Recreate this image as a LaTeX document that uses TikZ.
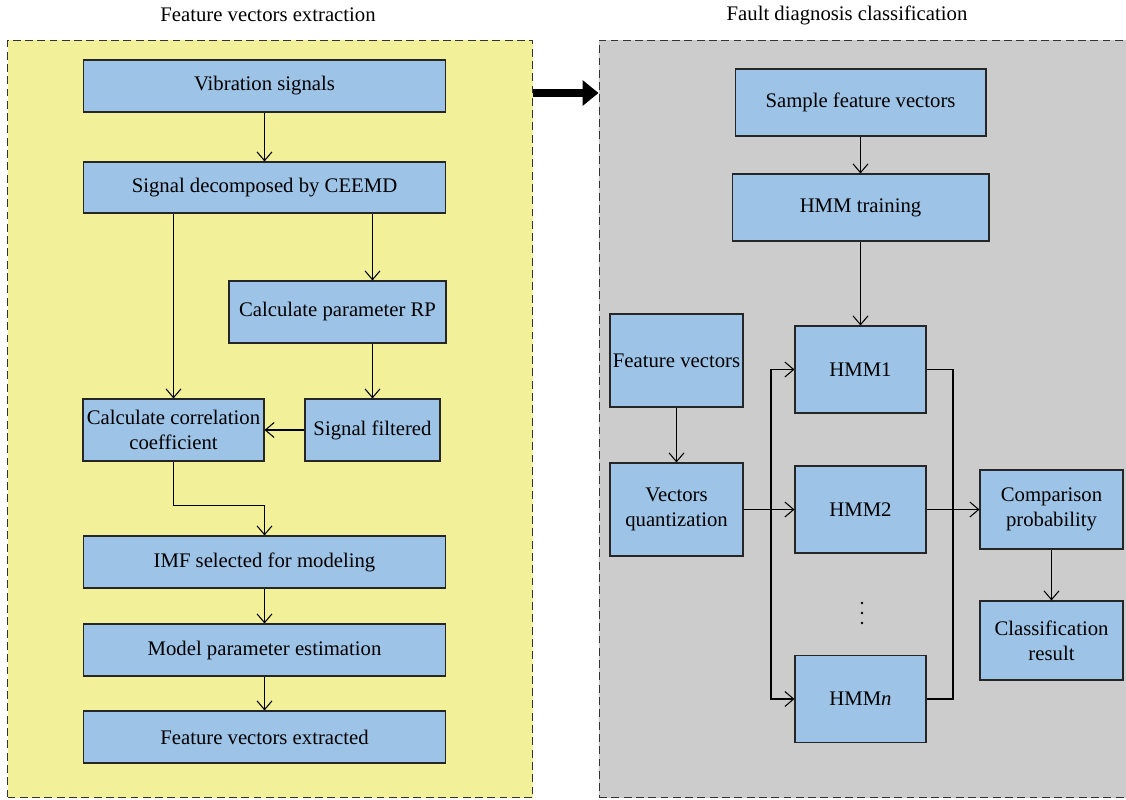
\documentclass[tikz,border=0pt]{standalone}
\usepackage{fontspec}
\setmainfont{Liberation Serif}
\usetikzlibrary{arrows.meta,positioning,calc}
\definecolor{panelyellow}{RGB}{243,240,154}
\definecolor{panelgray}{RGB}{204,204,204}
\definecolor{boxblue}{RGB}{157,195,231}

\begin{document}
\begin{tikzpicture}[
  x=0.02cm, y=-0.02cm,
  font=\fontsize{11.8}{14}\selectfont,
  blk/.style={rectangle, draw=black!85, line width=0.6pt, fill=boxblue,
              inner sep=1pt, align=center},
  wide/.style={blk, minimum width=7.26cm, minimum height=1.04cm},
  panel/.style={rectangle, draw=black!80, line width=0.6pt,
                dash pattern=on 4.5pt off 2.5pt},
  arr/.style={-{Straight Barb[length=5pt,width=8.5pt]}, line width=0.6pt},
  lnk/.style={line width=0.6pt},
  big/.style={-{Triangle[length=9pt,width=14pt]}, line width=5pt}
]
\useasboundingbox (0,0) rectangle (1126,799);

% panels
\node[panel, fill=panelyellow, minimum width=10.51cm, minimum height=15.16cm] (left) at (270.25,419) {};
\node[panel, fill=panelgray, minimum width=10.82cm, minimum height=15.16cm] (right) at (869.5,419) {};
\node (tleft) at (268,15) {Feature vectors extraction};
\node (tright) at (847,15) {Fault diagnosis classification};

\coordinate (arrowy) at (0,93);
\draw[big] (left.east |- arrowy) -- (right.west |- arrowy);

% feature vectors extraction
\node[wide] (vib) at (264.5,86) {Vibration signals};
\node[wide, minimum height=1.02cm] (ceemd) at (264.5,187.5) {Signal decomposed by CEEMD};
\node[blk, minimum width=4.34cm, minimum height=1.24cm] (rp) at (337.5,312) {Calculate parameter RP};
\node[blk, minimum width=3.62cm, minimum height=1.24cm] (corr) at (173.5,430) {Calculate correlation\\coefficient};
\node[blk, minimum width=2.70cm, minimum height=1.24cm] (filt) at (372.5,430) {Signal filtered};
\node[wide] (imf) at (264.5,562) {IMF selected for modeling};
\node[wide] (model) at (264.5,650) {Model parameter estimation};
\node[wide] (fvx) at (264.5,737) {Feature vectors extracted};

\draw[arr] (vib) -- (ceemd);
\draw[arr] (ceemd.south -| filt) -- (rp.north -| filt);
\draw[arr] (rp.south -| filt) -- (filt);
\draw[arr] (ceemd.south -| corr) -- (corr);
\draw[arr] (filt) -- (corr);
\draw[arr] (corr.south) -- ++(0,44) -| (imf.north);
\draw[arr] (imf) -- (model);
\draw[arr] (model) -- (fvx);

% fault diagnosis classification
\node[blk, minimum width=5.02cm, minimum height=1.34cm] (sfv) at (860.5,102.5) {Sample feature vectors};
\node[blk, minimum width=5.14cm, minimum height=1.34cm] (train) at (860.5,207.5) {HMM training};
\node[blk, minimum width=2.66cm, minimum height=1.86cm] (fv) at (676.5,360.5) {Feature vectors};
\node[blk, minimum width=2.66cm, minimum height=1.86cm] (vq) at (676.5,509.5) {Vectors\\quantization};
\node[blk, minimum width=2.62cm, minimum height=1.74cm] (hmm1) at (860.5,369.5) {HMM1};
\node[blk, minimum width=2.62cm, minimum height=1.74cm] (hmm2) at (860.5,509.5) {HMM2};
\foreach \k in {603,613,623}
  \fill (862,\k) circle (0.8pt);
\node[blk, minimum width=2.62cm, minimum height=1.74cm] (hmmn) at (860.5,699) {HMM\textit{n}};
\node[blk, minimum width=2.86cm, minimum height=1.58cm] (cmp) at (1051.5,509.5) {Comparison\\probability};
\node[blk, minimum width=2.86cm, minimum height=1.58cm] (cls) at (1051.5,640.5) {Classification\\result};
\coordinate (busl) at (771,509.5);
\coordinate (busr) at (953,509.5);

\draw[arr] (sfv) -- (train);
\draw[arr] (train) -- (hmm1);
\draw[arr] (fv) -- (vq);
\draw[arr] (vq) -- (hmm2);
\draw[arr] (busl) |- (hmm1);
\draw[arr] (busl) |- (hmmn);
\draw[lnk] (hmm1) -| (busr);
\draw[lnk] (hmmn) -| (busr);
\draw[arr] (hmm2) -- (cmp);
\draw[arr] (cmp) -- (cls);
\end{tikzpicture}
\end{document}
